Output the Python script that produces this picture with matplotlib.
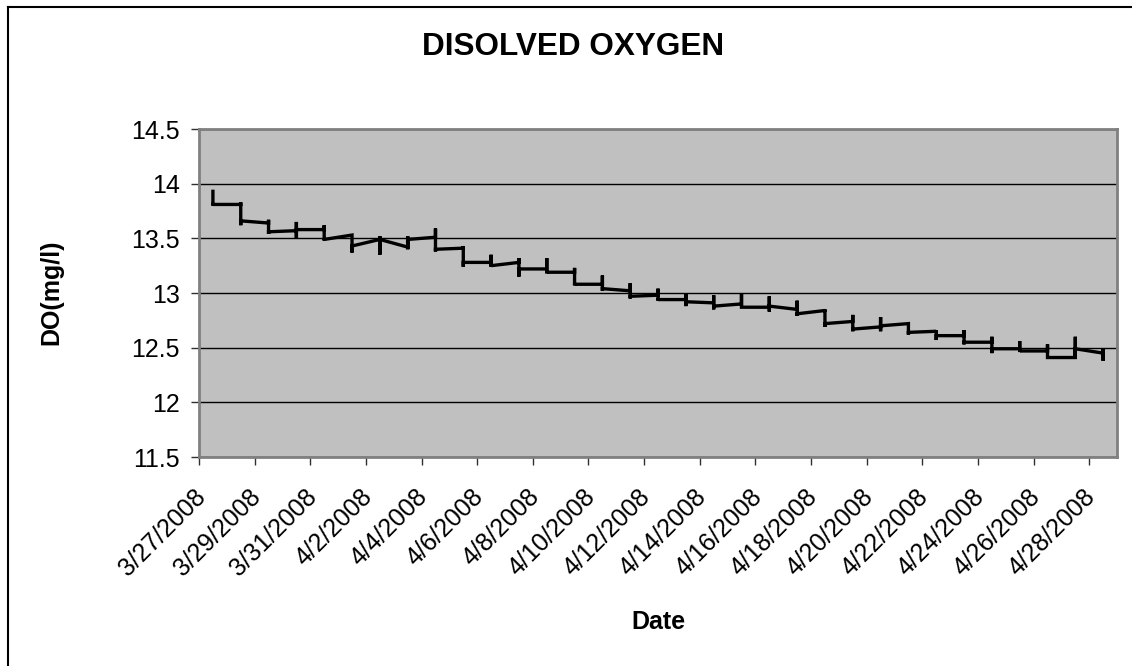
# Dissolved oxygen chart (Excel style)

# importing the libraries
import datetime as dt
import numpy as np
import matplotlib.pyplot as plt
import matplotlib.dates as mdates
from matplotlib.lines import Line2D
from matplotlib.transforms import ScaledTranslation

plt.rcParams['font.family'] = ['Liberation Sans', 'DejaVu Sans']

# daily readings: first, highest, lowest and last value of each day
start = dt.date(2008, 3, 27)
do_first = [13.93, 13.81, 13.64, 13.57, 13.58, 13.53, 13.49, 13.42, 13.51, 13.41, 13.28,
            13.28, 13.22, 13.19, 13.08, 13.02, 12.98, 12.94, 12.91, 12.90, 12.87, 12.85,
            12.84, 12.74, 12.69, 12.72, 12.65, 12.61, 12.55, 12.49, 12.47, 12.41, 12.45]
do_max = [13.93, 13.83, 13.67, 13.65, 13.62, 13.53, 13.52, 13.52, 13.59, 13.43, 13.35,
          13.32, 13.32, 13.23, 13.16, 13.09, 13.04, 13.00, 12.98, 13.00, 12.97, 12.93,
          12.85, 12.80, 12.78, 12.72, 12.66, 12.66, 12.60, 12.56, 12.53, 12.60, 12.49]
do_min = [13.80, 13.62, 13.54, 13.50, 13.48, 13.37, 13.35, 13.40, 13.38, 13.24, 13.24,
          13.15, 13.18, 13.07, 13.02, 12.95, 12.93, 12.88, 12.85, 12.87, 12.83, 12.79,
          12.69, 12.65, 12.65, 12.62, 12.57, 12.53, 12.45, 12.46, 12.41, 12.40, 12.38]
do_last = [13.81, 13.66, 13.56, 13.58, 13.49, 13.43, 13.49, 13.49, 13.40, 13.28, 13.25,
           13.22, 13.19, 13.08, 13.04, 12.97, 12.94, 12.92, 12.88, 12.87, 12.88, 12.81,
           12.72, 12.67, 12.70, 12.64, 12.61, 12.55, 12.49, 12.47, 12.41, 12.49, 12.43]
y_ticks = [11.5, 12, 12.5, 13, 13.5, 14, 14.5]

# every reading of a day sits on the middle of that day
days = [start + dt.timedelta(days=i) for i in range(len(do_first))]
x, y = [], []
for d, a, b, c, e in zip(days, do_first, do_max, do_min, do_last):
    xd = mdates.date2num(d) + 0.5
    x += [xd] * 4
    y += [a, b, c, e]

fig = plt.figure(figsize=(11.32, 6.66), dpi=100)
ax = fig.add_axes([0.1758, 0.3138, 0.8110, 0.4925])
ax.set_facecolor('#C0C0C0')
ax.plot(x, y, color='black', linewidth=2.4, solid_joinstyle='miter')

ax.set_ylim(11.5, 14.5)
ax.set_yticks(y_ticks)
ax.set_yticklabels(['11.5', '12', '12.5', '13', '13.5', '14', '14.5'])
ax.grid(axis='y', color='black', linewidth=1)
ax.set_axisbelow(True)

x0 = mdates.date2num(start)
ax.set_xlim(x0, x0 + 33)
tick_days = [start + dt.timedelta(days=2 * k) for k in range(17)]
ax.set_xticks([mdates.date2num(d) for d in tick_days])
ax.set_xticklabels([f'{d.month}/{d.day}/{d.year}' for d in tick_days],
                   rotation=45, ha='right', rotation_mode='anchor')

ax.tick_params(axis='both', direction='out', length=6, width=1, color='#303030',
               labelsize=18)
ax.tick_params(axis='y', pad=8)
ax.tick_params(axis='x', pad=14)
for s in ax.spines.values():
    s.set_color('#808080')
    s.set_linewidth(2)

# pull the slanted date labels back under their ticks
shift = ScaledTranslation(-0.06, 0, fig.dpi_scale_trans)
for lab in ax.get_xticklabels():
    lab.set_transform(lab.get_transform() + shift)

fig.text(0.506, 0.9287, 'DISOLVED OXYGEN', ha='center', va='center',
         fontsize=22.7, fontweight='bold')
fig.text(0.045, 0.561, 'DO(mg/l)', ha='center', va='center', rotation=90,
         fontsize=18, fontweight='bold')
fig.text(0.582, 0.0665, 'Date', ha='center', va='center', fontsize=18, fontweight='bold')

# chart border (only left and top edges are visible)
fig.lines.append(Line2D([7.5 / 1132, 7.5 / 1132], [0, 1 - 6.5 / 666], transform=fig.transFigure,
                        color='black', linewidth=1.5))
fig.lines.append(Line2D([7.5 / 1132, 1], [1 - 6.5 / 666, 1 - 6.5 / 666], transform=fig.transFigure,
                        color='black', linewidth=1.5))

plt.savefig('out.png', dpi=100)
